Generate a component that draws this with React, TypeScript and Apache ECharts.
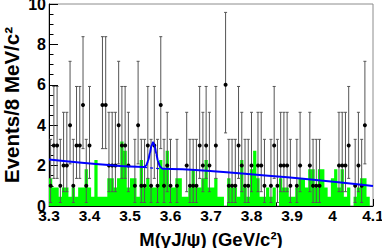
import React, { useEffect, useRef } from "react";
import * as echarts from "echarts";

// ---- data ----
const X_MIN = 3.3;
const X_MAX = 4.1;
const BIN_WIDTH = 0.008;

// observed events per 8 MeV bin (100 bins from 3.3 to 4.1)
const eventCounts = [
  1, 3, 3, 1, 2, 2, 4, 1, 3, 3,
  5, 1, 3, 0, 0, 0, 5, 5, 2, 2,
  2, 4, 3, 3, 2, 0, 1, 4, 1, 1,
  3, 1, 3, 1, 5, 1, 2, 1, 0, 1,
  0, 0, 2, 1, 1, 1, 3, 2, 3, 2,
  0, 3, 0, 0, 6, 1, 1, 1, 3, 2,
  1, 1, 2, 0, 2, 2, 1, 0, 1, 3,
  1, 2, 2, 2, 1, 0, 1, 2, 0, 0,
  2, 1, 1, 1, 0, 0, 0, 0, 0, 2,
  2, 2, 3, 0, 1, 2, 1, 4, 0, 0,
];

// green background histogram heights per bin
const bgHeights = [
  1.37, 0.91, 0.91, 0.46, 0.91, 0.91, 0.46, 0.91, 0.46, 0.91,
  0.91, 1.82, 0.91, 0.46, 2.28, 0.46, 0.46, 0.46, 1.37, 1.37,
  0.91, 1.37, 3.19, 2.73, 0.91, 1.37, 1.37, 0.46, 2.28, 0.91,
  1.37, 0.91, 0.91, 0.91, 2.28, 1.82, 2.73, 0.91, 0.91, 1.37,
  1.37, 0.46, 0.46, 0.91, 1.82, 0.91, 0.91, 1.37, 2.28, 0.91,
  0.91, 1.37, 0.46, 0.46, 0, 1.37, 0.91, 0.91, 0.46, 2.28,
  0.91, 0.46, 1.82, 2.73, 1.37, 0.46, 0.46, 0.91, 0.46, 0.91,
  0, 1.37, 0.91, 0.91, 0.46, 0.46, 0.91, 1.37, 1.37, 0.91,
  1.82, 1.82, 0.91, 1.82, 1.82, 0.91, 0.46, 1.37, 1.82, 0.91,
  1.82, 0.46, 0.91, 0, 0.46, 0.91, 1.37, 1.37, 0.46, 0,
];

// Poisson 68% central interval limits for n = 0..6
const poissonLow = [0, 0.173, 0.708, 1.367, 2.086, 2.84, 3.62];
const poissonHigh = [0, 3.3, 4.638, 5.918, 7.163, 8.382, 9.584];

// fit curve (signal + linear background)
const fitMass = [3.3, 3.535, 3.54, 3.545, 3.549, 3.553, 3.557, 3.561, 3.565, 3.569, 3.574, 3.58, 4.1];
const fitValue = [2.3, 1.93, 2.0, 2.25, 2.61, 2.99, 3.15, 2.97, 2.58, 2.22, 1.95, 1.85, 0.99];

// background-only component under the peak (dashed)
const bgDashMass = [3.535, 3.58];
const bgDashValue = [1.915, 1.841];

const FONT = "'Liberation Sans', Arial, Helvetica, sans-serif";

export default function App() {
  const ref = useRef<HTMLDivElement>(null);

  useEffect(() => {
    document.body.style.margin = "0";
    if (!ref.current) return;
    const chart = echarts.init(ref.current, null, { renderer: "svg" });

    const histData: number[][] = bgHeights.map((h, i) => [X_MIN + i * BIN_WIDTH, h]);
    histData.push([X_MAX, bgHeights[bgHeights.length - 1]]);

    const pointData: number[][] = [];
    eventCounts.forEach((n, i) => {
      if (n > 0) {
        pointData.push([X_MIN + (i + 0.5) * BIN_WIDTH, n, poissonLow[n], poissonHigh[n]]);
      }
    });

    const fitData = fitMass.map((m, i) => [m, fitValue[i]]);
    const dashData = bgDashMass.map((m, i) => [m, bgDashValue[i]]);

    chart.setOption({
      animation: false,
      backgroundColor: "#ffffff",
      grid: {
        left: 49,
        right: 9,
        top: 4,
        bottom: 42,
        show: true,
        borderColor: "#8c8c8c",
        borderWidth: 1,
        backgroundColor: "transparent",
        containLabel: false,
        outerBoundsMode: "none",
      },
      xAxis: {
        type: "value",
        min: X_MIN,
        max: X_MAX,
        interval: 0.1,
        name: "M(γJ/ψ) (GeV/c²)",
        nameLocation: "middle",
        nameGap: 24,
        nameMoveOverlap: false,
        nameTextStyle: {
          fontFamily: FONT,
          fontWeight: "bold",
          fontSize: 18.5,
          lineHeight: 18,
          color: "#000",
        },
        axisLine: { show: true, lineStyle: { color: "#000", width: 1 } },
        axisTick: { show: true, inside: true, length: 7, lineStyle: { color: "#000" } },
        minorTick: { show: true, splitNumber: 5, length: 3.5, lineStyle: { color: "#000" } },
        splitLine: { show: false },
        axisLabel: {
          fontFamily: FONT,
          fontWeight: "bold",
          fontSize: 15.5,
          color: "#000",
          margin: 1,
          formatter: (v: number) => String(+v.toFixed(1)),
        },
      },
      yAxis: {
        type: "value",
        min: 0,
        max: 10,
        interval: 2,
        name: "Events/8 MeV/c²",
        nameLocation: "middle",
        nameGap: 27,
        nameMoveOverlap: false,
        nameRotate: 90,
        nameTextStyle: {
          fontFamily: FONT,
          fontWeight: "bold",
          fontSize: 20.5,
          color: "#000",
        },
        axisLine: { show: true, lineStyle: { color: "#000", width: 1 } },
        axisTick: { show: true, inside: true, length: 9, lineStyle: { color: "#000" } },
        minorTick: { show: true, splitNumber: 4, length: 4.5, lineStyle: { color: "#000" } },
        splitLine: { show: false },
        axisLabel: {
          fontFamily: FONT,
          fontWeight: "bold",
          fontSize: 16,
          lineHeight: 13,
          color: "#000",
          margin: 3,
        },
      },
      series: [
        {
          type: "line",
          name: "background",
          data: histData,
          step: "end",
          showSymbol: false,
          lineStyle: { width: 0, color: "#00ff00" },
          areaStyle: { color: "#00ff00", opacity: 1 },
          z: 1,
        },
        {
          type: "custom",
          name: "data",
          data: pointData,
          encode: { x: 0, y: 1 },
          z: 3,
          renderItem: (params: any, api: any) => {
            const x = api.value(0);
            const n = api.value(1);
            const lo = api.value(2);
            const hi = api.value(3);
            const pLo = api.coord([x, lo]);
            const pHi = api.coord([x, hi]);
            const pC = api.coord([x, n]);
            const stroke = { stroke: "#555555", lineWidth: 1 };
            return {
              type: "group",
              children: [
                { type: "line", shape: { x1: pLo[0], y1: pLo[1], x2: pHi[0], y2: pHi[1] }, style: stroke },
                { type: "line", shape: { x1: pLo[0] - 1.5, y1: pLo[1], x2: pLo[0] + 1.5, y2: pLo[1] }, style: stroke },
                { type: "line", shape: { x1: pHi[0] - 1.5, y1: pHi[1], x2: pHi[0] + 1.5, y2: pHi[1] }, style: stroke },
                { type: "circle", shape: { cx: pC[0], cy: pC[1], r: 2 }, style: { fill: "#000" } },
              ],
            };
          },
        },
        {
          type: "line",
          name: "fit",
          data: fitData,
          showSymbol: false,
          smooth: 0.25,
          smoothMonotone: "x",
          lineStyle: { color: "#0000ff", width: 2 },
          z: 5,
        },
        {
          type: "line",
          name: "fit background",
          data: dashData,
          showSymbol: false,
          lineStyle: { color: "#0000ff", width: 1.2, type: [3, 3] },
          z: 4,
        },
      ],
    });

    return () => chart.dispose();
  }, []);

  return (
    <div
      ref={ref}
      style={{ position: "absolute", left: 0, top: 0, width: 382, height: 248, background: "#fff" }}
    />
  );
}
